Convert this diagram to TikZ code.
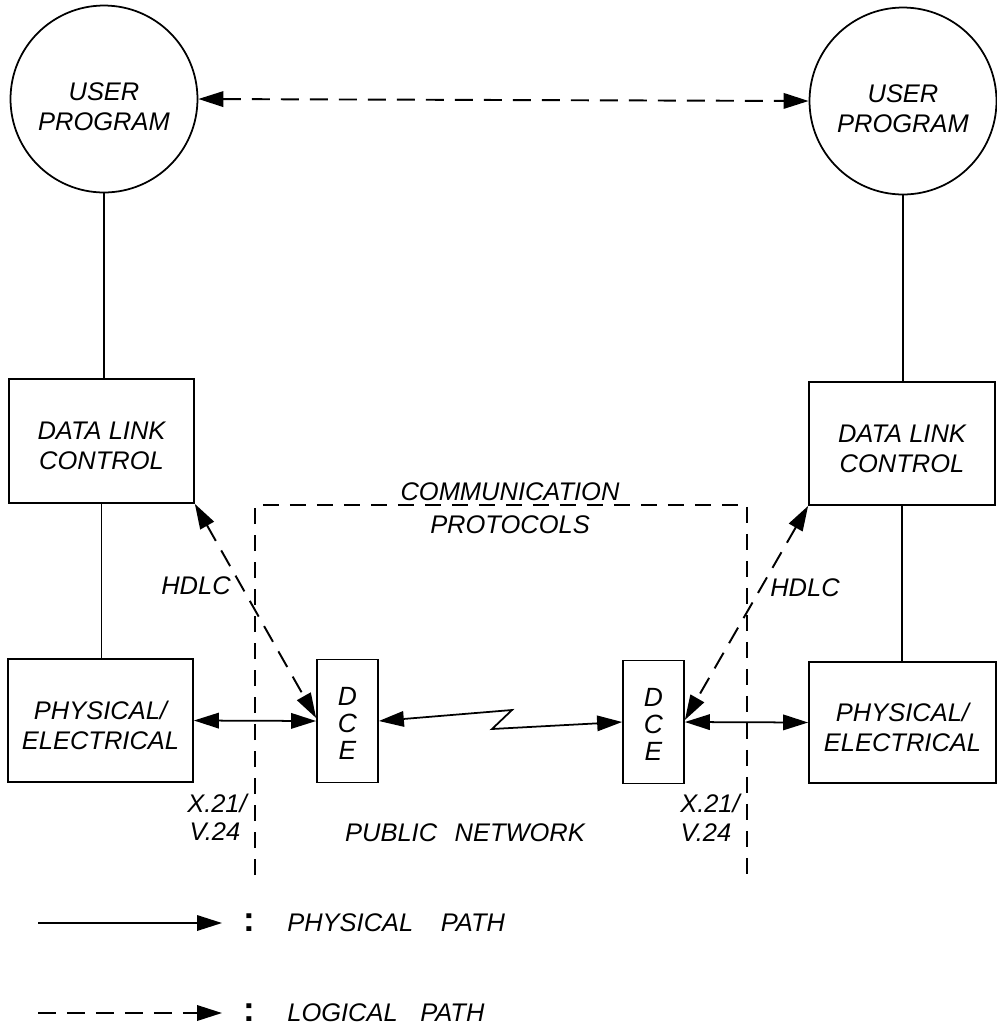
\documentclass[tikz,border=0pt]{standalone}
\usepackage{fontspec}
\setmainfont{Liberation Sans}
\usetikzlibrary{arrows.meta}
\begin{document}
\begin{tikzpicture}[x=0.02cm,y=-0.02cm,
  >={Triangle[length=5mm,width=3.1mm]},
  every node/.style={font=\itshape\fontsize{14.5}{17}\selectfont},
  lbl/.style={inner sep=0pt},
  inlbl/.style={inner sep=0pt,align=center,yshift=-0.1cm},
  box/.style={draw,line width=1pt,inner sep=0pt},
  prog/.style={draw,circle,line width=1pt,minimum size=3.74cm,inner sep=0pt},
  dcetxt/.style={inlbl,yshift=0.05cm,font=\itshape\fontsize{15}{15.5}\selectfont},
  dce/.style={box,minimum width=1.22cm,minimum height=2.46cm},
  phys/.style={line width=1pt},
  thin/.style={line width=0.8pt},
  logi/.style={line width=1.1pt,dash pattern=on 3.6mm off 2.2mm},
  frame/.style={line width=1pt,dash pattern=on 3.2mm off 2.2mm},
  colon/.style={inner sep=0pt,font=\bfseries\upshape\fontsize{20}{20}\selectfont}]
\useasboundingbox (0,0) rectangle (997,1029);

% user programs
\node[prog,label={[inlbl,yshift=-0.05cm]center:USER\\PROGRAM}] (upL) at (104,99) {};
\node[prog,label={[inlbl,yshift=-0.05cm]center:USER\\PROGRAM}] (upR) at (903,101) {};

% data link control
\node[box,minimum width=3.7cm,minimum height=2.48cm,label={[inlbl]center:DATA LINK\\CONTROL}] (dlcL) at (101.5,441) {};
\node[box,minimum width=3.72cm,minimum height=2.46cm,label={[inlbl]center:DATA LINK\\CONTROL}] (dlcR) at (902,443.5) {};

% physical / electrical
\node[box,minimum width=3.7cm,minimum height=2.46cm,label={[inlbl]center:PHYSICAL/\\ELECTRICAL}] (phyL) at (100.5,720.5) {};
\node[box,minimum width=3.74cm,minimum height=2.42cm,label={[inlbl]center:PHYSICAL/\\ELECTRICAL}] (phyR) at (902.5,722.5) {};

% DCE
\node[dce,label={[dcetxt]center:D\\C\\E}] (dceL) at (347.5,721) {};
\node[dce,label={[dcetxt]center:D\\C\\E}] (dceR) at (653.5,722) {};

% vertical connectors
\draw[thin] (upL.south) -- (upL.south |- dlcL.north);
\draw[line width=0.5pt] (dlcL.south) -- (dlcL.south |- phyL.north);
\draw[thin] (upR.south) -- (upR.south |- dlcR.north);
\draw[thin] (dlcR.south) -- (dlcR.south |- phyR.north);

% logical path between user programs
\draw[logi,<->] (upL.east) -- (upR.west);

% communication protocols frame
\coordinate (fBL) at (255,875);
\coordinate (fTL) at (255,505);
\coordinate (fTR) at (747,505);
\coordinate (fBR) at (747,875);
\draw[frame] (fBL) -- (fTL) -- (fTR) -- (fBR);
\node[lbl] (cp1) at (510,492) {COMMUNICATION};
\node[lbl] (cp2) at (510,525) {PROTOCOLS};

% physical paths
\draw[phys,<->] (phyL.east) -- (dceL.west);
\draw[phys,<->] (dceR.east) -- (phyR.west);
\coordinate (z1) at (512,710);
\coordinate (z2) at (492,729);
\draw[phys,<->] (dceL.east) -- (z1) -- (z2) -- (dceR.west);

% HDLC logical paths
\draw[logi,<->] (dlcL.south east) -- ([yshift=0.06cm]dceL.west);
\draw[logi,<->] (dlcR.south west) -- ([yshift=0.04cm]dceR.east);
\node[lbl] (hdlcL) at (196,586) {HDLC};
\node[lbl] (hdlcR) at (805,588) {HDLC};

% interface labels
\node[lbl] (xL) at (217,803) {X.21/};
\node[lbl] (vL) at (215,832) {V.24};
\node[lbl] (xR) at (710,803) {X.21/};
\node[lbl] (vR) at (706,833) {V.24};
\node[lbl] (pub) at (465,833) {PUBLIC\hspace{0.35cm}NETWORK};

% legend
\coordinate (l1a) at (38,923);
\coordinate (l1b) at (222,923);
\coordinate (l2a) at (38,1013);
\coordinate (l2b) at (222,1013);
\draw[phys,->] (l1a) -- (l1b);
\draw[logi,->] (l2a) -- (l2b);
\node[colon] (c1) at (249,923) {:};
\node[colon] (c2) at (249,1013) {:};
\node[lbl,anchor=west] (t1) at (287,923) {PHYSICAL\hspace{0.55cm}PATH};
\node[lbl,anchor=west] (t2) at (287,1013) {LOGICAL\hspace{0.45cm}PATH};
\end{tikzpicture}
\end{document}
